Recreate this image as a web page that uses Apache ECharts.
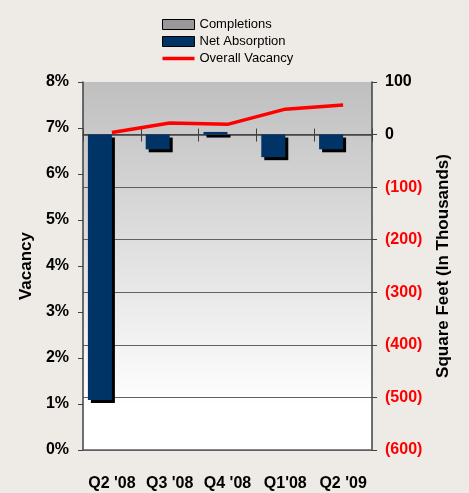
<!DOCTYPE html>
<html>
<head>
<meta charset="utf-8">
<script src="https://cdn.jsdelivr.net/npm/echarts@6/dist/echarts.min.js"></script>
<style>
  html, body { margin: 0; padding: 0; background: #EEEBE6; }
  #chart { width: 469px; height: 493px; }
</style>
</head>
<body>
<div id="chart"></div>
<script>
// Quarterly office market figures
const quarters = ["Q2 '08", "Q3 '08", "Q4 '08", "Q1'08", "Q2 '09"];
const completions = [0, 0, 0, 0, 0];                 // thousands of sq ft
const netAbsorption = [-505, -28, 5, -43, -28];      // thousands of sq ft
const overallVacancy = [6.9, 7.11, 7.08, 7.41, 7.5]; // percent

const vacancyTicks = { min: 0, max: 8, interval: 1 };
const sqftTicks = { min: -600, max: 100, interval: 100 };

const FONT = 'Liberation Sans, Arial, sans-serif';

const chart = echarts.init(document.getElementById('chart'), null, { renderer: 'canvas' });

const barShadow = {
  shadowColor: '#000',
  shadowBlur: 0,
  shadowOffsetX: 3,
  shadowOffsetY: 3
};

chart.setOption({
  backgroundColor: '#EEEBE6',
  animation: false,
  textStyle: { fontFamily: FONT },
  legend: {
    orient: 'vertical',
    left: 157,
    top: 13,
    padding: 5,
    itemWidth: 32,
    itemHeight: 10,
    itemGap: 4,
    textStyle: { fontFamily: FONT, fontSize: 13, color: '#000' },
    data: [
      { name: 'Completions', icon: 'rect', itemStyle: { color: '#999999', borderColor: '#000', borderWidth: 1 } },
      { name: 'Net Absorption', icon: 'rect', itemStyle: { color: '#003366', borderColor: '#000', borderWidth: 1 } },
      { name: 'Overall Vacancy', icon: 'path://M0,0 L32,0 L32,3.5 L0,3.5 Z', itemStyle: { color: '#FF0000' } }
    ]
  },
  grid: {
    left: 83,
    right: 97,
    top: 82,
    bottom: 43,
    show: true,
    borderWidth: 0,
    backgroundColor: {
      type: 'linear', x: 0, y: 0, x2: 0, y2: 1,
      colorStops: [
        { offset: 0, color: '#BFBFBF' },
        { offset: 0.88, color: '#FFFFFF' },
        { offset: 1, color: '#FFFFFF' }
      ]
    }
  },
  xAxis: [
    {
      // category labels along the bottom, with the bottom rule
      type: 'category',
      data: quarters,
      position: 'bottom',
      axisLine: { show: true, onZero: false, lineStyle: { color: '#606060', width: 1.5 } },
      axisTick: { show: false },
      axisLabel: { interval: 0, margin: 26, fontFamily: FONT, fontSize: 16, fontWeight: 'bold', color: '#000' }
    },
    {
      // axis line through zero with ticks above
      type: 'category',
      data: quarters,
      axisLine: { show: true, onZero: true, onZeroAxisIndex: 1, lineStyle: { color: '#404040', width: 1.5 } },
      axisTick: { show: true, interval: 0, inside: true, length: 7, lineStyle: { color: '#404040' } },
      axisLabel: { show: false }
    },
    {
      // ticks below the zero line
      type: 'category',
      data: quarters,
      axisLine: { show: false, onZero: true, onZeroAxisIndex: 1 },
      axisTick: { show: true, interval: 0, inside: false, length: 6, lineStyle: { color: '#404040' } },
      axisLabel: { show: false }
    }
  ],
  yAxis: [
    {
      type: 'value',
      position: 'left',
      min: vacancyTicks.min,
      max: vacancyTicks.max,
      interval: vacancyTicks.interval,
      name: 'Vacancy',
      nameLocation: 'middle',
      nameRotate: 90,
      nameGap: 48,
      nameTextStyle: { fontFamily: FONT, fontSize: 17, fontWeight: 'bold', color: '#000' },
      axisLine: { show: true, lineStyle: { color: '#404040', width: 1.5 } },
      axisTick: { show: true, length: 5, lineStyle: { color: '#404040' } },
      splitLine: { show: false },
      axisLabel: {
        margin: 14,
        fontFamily: FONT, fontSize: 16, fontWeight: 'bold', color: '#000',
        formatter: v => v + '%'
      }
    },
    {
      type: 'value',
      position: 'right',
      min: sqftTicks.min,
      max: sqftTicks.max,
      interval: sqftTicks.interval,
      name: 'Square Feet (In Thousands)',
      nameLocation: 'middle',
      nameRotate: 90,
      nameGap: 63,
      nameTextStyle: { fontFamily: FONT, fontSize: 17, fontWeight: 'bold', color: '#000' },
      axisLine: { show: true, lineStyle: { color: '#404040', width: 1.5 } },
      axisTick: { show: true, length: 5, lineStyle: { color: '#404040' } },
      splitLine: { show: true, showMaxLine: false, lineStyle: { color: '#606060', width: 1 } },
      axisLabel: {
        margin: 13,
        fontFamily: FONT, fontSize: 16, fontWeight: 'bold',
        formatter: v => v < 0 ? '{neg|(' + Math.abs(v) + ')}' : '{pos|' + v + '}',
        rich: {
          neg: { color: '#FF0000', fontFamily: FONT, fontSize: 16, fontWeight: 'bold' },
          pos: { color: '#000', fontFamily: FONT, fontSize: 16, fontWeight: 'bold' }
        }
      }
    }
  ],
  series: [
    {
      name: 'Net Absorption',
      type: 'bar',
      xAxisIndex: 0,
      yAxisIndex: 1,
      barWidth: 24,
      barGap: '0%',
      data: netAbsorption,
      itemStyle: Object.assign({ color: '#003366' }, barShadow),
      z: 3
    },
    {
      name: 'Completions',
      type: 'bar',
      xAxisIndex: 0,
      yAxisIndex: 1,
      barWidth: 24,
      barGap: '0%',
      data: completions,
      itemStyle: Object.assign({ color: '#999999' }, barShadow),
      z: 3
    },
    {
      name: 'Overall Vacancy',
      type: 'line',
      xAxisIndex: 0,
      yAxisIndex: 0,
      data: overallVacancy,
      symbol: 'none',
      lineStyle: { color: '#FF0000', width: 3.5 },
      itemStyle: { color: '#FF0000' },
      z: 5
    }
  ]
});
</script>
</body>
</html>
